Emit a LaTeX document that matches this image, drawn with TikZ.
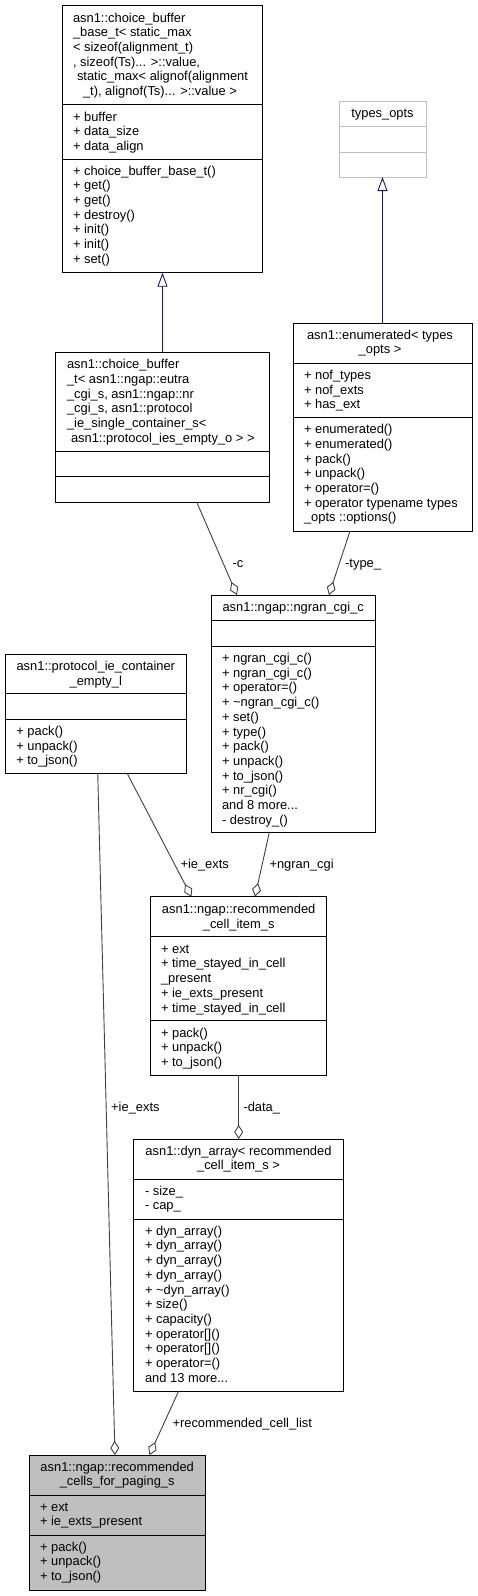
\documentclass[tikz,border=0pt]{standalone}
\usepackage{fontspec}
\setmainfont{Liberation Sans}
\usetikzlibrary{arrows.meta}
\definecolor{edgegray}{HTML}{404040}
\definecolor{navyedge}{HTML}{191970}
\definecolor{mainfill}{HTML}{BFBFBF}
\definecolor{extgray}{HTML}{BFBFBF}
\tikzset{
  classbox/.style={rectangle, line width=1pt, inner sep=0pt, outer sep=0pt},
  compart/.style={inner sep=0pt, outer sep=0pt, align=left, font={\fontsize{12.9}{14.7}\selectfont}},
  ctitle/.style={compart, align=center, anchor=north},
  cbody/.style={compart, anchor=north west},
  agg/.style={draw=edgegray, line width=0.9pt, -{Diamond[open,length=14pt,width=9pt]}},
  inherit/.style={draw=navyedge, line width=0.9pt, -{Triangle[open,length=14pt,width=10pt]}},
  elabel/.style={inner sep=0pt, anchor=base west, font={\fontsize{12.9}{14.7}\selectfont}},
}
\newcommand\umlbox[9]{%
  \pgfmathsetmacro\clsW{#4-#2}\pgfmathsetmacro\clsH{#5-#3}%
  \node[classbox, fill=#8, draw=#9, minimum width=\clsW pt, minimum height=\clsH pt, anchor=north west] (#1) at (#2,#3) {};
  \draw[draw=#9, line width=1pt] (#2,#6) -- (#4,#6) (#2,#7) -- (#4,#7);
}
\begin{document}
\begin{tikzpicture}[x=1pt,y=-1pt]
\useasboundingbox (0,0) rectangle (477,1596);

% class boxes
\umlbox{cbb}{62.3}{5.7}{262.7}{272.7}{104.3}{159.3}{white}{black}
\umlbox{types}{339}{101}{426}{177}{126.3}{152}{white}{extgray}
\umlbox{enum}{293}{323}{472}{531}{363}{417.7}{white}{black}
\umlbox{cbt}{55.7}{352.3}{269.3}{502}{451}{476.7}{white}{black}
\umlbox{ngran}{211}{595}{375.3}{832.7}{620.7}{646}{white}{black}
\umlbox{prot}{5}{654}{186.7}{773.7}{693.7}{719}{white}{black}
\umlbox{item}{150.7}{896.7}{326.7}{1075}{936.7}{1020.7}{white}{black}
\umlbox{dyn}{133.7}{1139}{343.3}{1391}{1179.3}{1219.3}{white}{black}
\umlbox{final}{29.3}{1455}{205}{1590}{1495.3}{1535.3}{mainfill}{black}

% texts
\node[cbody] (cbb-t) at (73,11.9) {\strut asn1::choice\_buffer\\
\_base\_t< static\_max\\
< sizeof(alignment\_t)\\
, sizeof(Ts)... >::value,\\
\hspace*{4pt}static\_max< alignof(alignment\\
\hspace*{10pt}\_t), alignof(Ts)... >::value >};
\node[cbody] (cbb-a) at (73,110.9) {\strut + buffer\\+ data\_size\\+ data\_align};
\node[cbody] (cbb-o) at (73,164.9) {\strut + choice\_buffer\_base\_t()\\+ get()\\+ get()\\+ destroy()\\+ init()\\+ init()\\+ set()};

\node[ctitle] (types-t) at (382.5,106.9) {\strut types\_opts};

\node[ctitle] (enum-t) at (380,328.9) {\strut asn1::enumerated< types\\\_opts >};
\node[cbody] (enum-a) at (304,369.2) {\strut + nof\_types\\+ nof\_exts\\+ has\_ext};
\node[cbody] (enum-o) at (304,423.5) {\strut + enumerated()\\+ enumerated()\\+ pack()\\+ unpack()\\+ operator=()\\+ operator typename types\\\_opts ::options()};

\node[cbody] (cbt-t) at (67,358.5) {\strut asn1::choice\_buffer\\
\_t< asn1::ngap::eutra\\
\_cgi\_s, asn1::ngap::nr\\
\_cgi\_s, asn1::protocol\\
\_ie\_single\_container\_s<\\
\hspace*{4pt}asn1::protocol\_ies\_empty\_o > >};

\node[ctitle] (ngran-t) at (293.2,600.9) {\strut asn1::ngap::ngran\_cgi\_c};
\node[cbody] (ngran-o) at (222,652.2) {\strut + ngran\_cgi\_c()\\+ ngran\_cgi\_c()\\+ operator=()\\+ \textasciitilde{}ngran\_cgi\_c()\\+ set()\\+ type()\\+ pack()\\+ unpack()\\+ to\_json()\\+ nr\_cgi()\\and 8 more...\\- destroy\_()};

\node[ctitle] (prot-t) at (95.8,660.2) {\strut asn1::protocol\_ie\_container\\\_empty\_l};
\node[cbody] (prot-o) at (16.3,725.2) {\strut + pack()\\+ unpack()\\+ to\_json()};

\node[ctitle] (item-t) at (238.7,903.2) {\strut asn1::ngap::recommended\\\_cell\_item\_s};
\node[cbody] (item-a) at (161,942.9) {\strut + ext\\+ time\_stayed\_in\_cell\\\_present\\+ ie\_exts\_present\\+ time\_stayed\_in\_cell};
\node[cbody] (item-o) at (161,1026.9) {\strut + pack()\\+ unpack()\\+ to\_json()};

\node[ctitle] (dyn-t) at (238.5,1144.9) {\strut asn1::dyn\_array< recommended\\\_cell\_item\_s >};
\node[cbody] (dyn-a) at (145,1184.9) {\strut - size\_\\- cap\_};
\node[cbody] (dyn-o) at (145,1224.9) {\strut + dyn\_array()\\+ dyn\_array()\\+ dyn\_array()\\+ dyn\_array()\\+ \textasciitilde{}dyn\_array()\\+ size()\\+ capacity()\\+ operator[]()\\+ operator[]()\\+ operator=()\\and 13 more...};

\node[ctitle] (final-t) at (117.2,1460.9) {\strut asn1::ngap::recommended\\\_cells\_for\_paging\_s};
\node[cbody] (final-a) at (40,1500.9) {\strut + ext\\+ ie\_exts\_present};
\node[cbody] (final-o) at (40,1540.9) {\strut + pack()\\+ unpack()\\+ to\_json()};

% connectors
\draw[inherit] (cbt.north) -- (cbb.south);
\draw[inherit] (enum.north) -- (types.south);
\draw[agg] ([xshift=34.2pt]cbt.south) -- ([xshift=-56.2pt]ngran.north);
\draw[agg] ([xshift=-32.5pt]enum.south) -- ([xshift=35.8pt]ngran.north);
\draw[agg] ([xshift=31.5pt]prot.south) -- ([xshift=-47.2pt]item.north);
\draw[agg] ([xshift=-23.9pt]ngran.south) -- ([xshift=16.3pt]item.north);
\draw[agg] (item.south) -- (item.south |- dyn.north);
\draw[agg] ([xshift=-59.8pt]dyn.south) -- ([xshift=32.3pt]final.north);
\draw[agg] ([xshift=1.9pt]prot.south) -- ([xshift=-2.2pt]final.north);

% connector labels
\node[elabel] (l-c) at (232.3,567.8) {-c};
\node[elabel] (l-type) at (345,567.8) {-type\_};
\node[elabel] (l-ie1) at (180.3,868.2) {+ie\_exts};
\node[elabel] (l-ngran) at (269.3,868.2) {+ngran\_cgi};
\node[elabel] (l-data) at (243.3,1111.2) {-data\_};
\node[elabel] (l-ie2) at (111,1111.2) {+ie\_exts};
\node[elabel] (l-list) at (172.3,1427.2) {+recommended\_cell\_list};
\end{tikzpicture}
\end{document}
